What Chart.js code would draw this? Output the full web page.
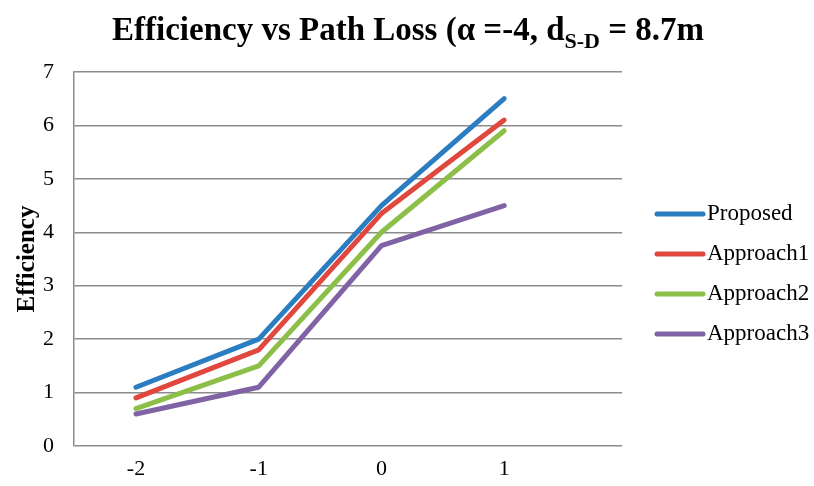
<!DOCTYPE html>
<html>
<head>
<meta charset="utf-8">
<script src="https://cdn.jsdelivr.net/npm/chart.js@4.4.1/dist/chart.umd.min.js"></script>
<style>
  html, body { margin: 0; padding: 0; background: #ffffff; }
  #wrap { width: 814px; height: 486px; position: relative; }
</style>
</head>
<body>
<div id="wrap"><canvas id="effChart"></canvas></div>
<script>
const xValues = [-2, -1, 0, 1];
const tickLabels = ["-2", "-1", "0", "1"];
const proposed = [1.1, 2.0, 4.5, 6.5];
const approach1 = [0.9, 1.8, 4.35, 6.1];
const approach2 = [0.7, 1.5, 4.0, 5.9];
const approach3 = [0.6, 1.1, 3.75, 4.5];
const seriesNames = ["Proposed", "Approach1", "Approach2", "Approach3"];
const seriesColors = ["#2A7DC0", "#E0483F", "#8CBF48", "#8063A4"];

const serif = "'Liberation Serif', 'Times New Roman', serif";

function toPoints(values) {
  return xValues.map((x, i) => ({ x: x, y: values[i] }));
}

const datasets = [proposed, approach1, approach2, approach3].map((values, i) => ({
  label: seriesNames[i],
  data: toPoints(values),
  borderColor: seriesColors[i],
  backgroundColor: seriesColors[i],
  borderWidth: 5,
  pointRadius: 0,
  tension: 0,
  borderCapStyle: "round",
  borderJoinStyle: "round",
}));

// title with subscript, y-axis title and legend drawn by hand
const decorPlugin = {
  id: "decor",
  afterDraw(chart) {
    const ctx = chart.ctx;
    ctx.save();
    ctx.fillStyle = "#000000";
    ctx.textBaseline = "alphabetic";

    const mainFont = "bold 33px " + serif;
    const subFont = "bold 22px " + serif;
    const parts = [
      { text: "Efficiency vs Path Loss (\u03b1 =-4, d", font: mainFont, dy: 0 },
      { text: "S-D", font: subFont, dy: 8 },
      { text: " = 8.7m", font: mainFont, dy: 0 },
    ];
    let total = 0;
    parts.forEach((p) => {
      ctx.font = p.font;
      p.w = ctx.measureText(p.text).width;
      total += p.w;
    });
    let x = 408 - total / 2;
    parts.forEach((p) => {
      ctx.font = p.font;
      ctx.textAlign = "left";
      ctx.fillText(p.text, x, 40 + p.dy);
      x += p.w;
    });

    ctx.save();
    ctx.translate(34, 259);
    ctx.rotate(-Math.PI / 2);
    ctx.font = "bold 25px " + serif;
    ctx.textAlign = "center";
    ctx.fillText("Efficiency", 0, 0);
    ctx.restore();

    ctx.font = "23px " + serif;
    ctx.textAlign = "left";
    ctx.textBaseline = "middle";
    chart.data.datasets.forEach((ds, i) => {
      const y = 214 + i * 40;
      ctx.strokeStyle = ds.borderColor;
      ctx.lineWidth = 5;
      ctx.lineCap = "round";
      ctx.beginPath();
      ctx.moveTo(657, y);
      ctx.lineTo(703, y);
      ctx.stroke();
      ctx.fillText(ds.label, 707, y);
    });
    ctx.restore();
  },
};

new Chart(document.getElementById("effChart"), {
  type: "line",
  data: { datasets: datasets },
  options: {
    responsive: true,
    maintainAspectRatio: false,
    animation: false,
    layout: { padding: { top: 72, right: 192, bottom: 0, left: 0 } },
    plugins: {
      legend: { display: false },
      title: { display: false },
      tooltip: { enabled: false },
    },
    scales: {
      x: {
        type: "linear",
        min: -2.505,
        max: 1.96,
        afterBuildTicks(scale) {
          scale.ticks = xValues.map((v) => ({ value: v }));
        },
        afterFit(scale) {
          scale.height = 40;
        },
        grid: { display: false },
        border: { display: false },
        ticks: {
          color: "#000000",
          font: { family: serif, size: 22 },
          padding: 2,
          maxRotation: 0,
          callback: (value) => tickLabels[xValues.indexOf(value)],
        },
      },
      y: {
        min: 0,
        max: 7,
        afterFit(scale) {
          scale.width = 74;
        },
        grid: { color: "#8c8c8c", lineWidth: 1.5, drawTicks: false },
        border: { display: true, color: "#8c8c8c", width: 1.5 },
        ticks: {
          stepSize: 1,
          color: "#000000",
          font: { family: serif, size: 22 },
          padding: 20,
        },
      },
    },
  },
  plugins: [decorPlugin],
});
</script>
</body>
</html>
